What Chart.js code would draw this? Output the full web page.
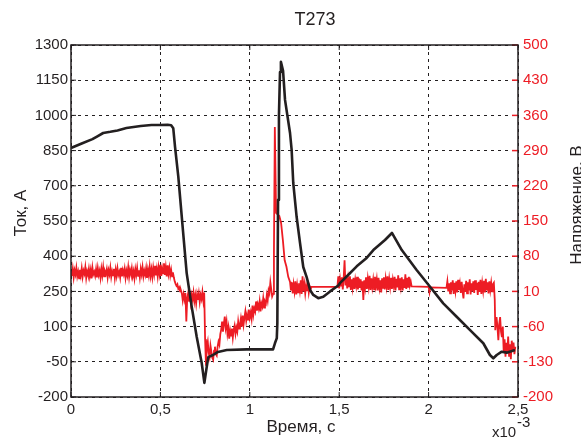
<!DOCTYPE html>
<html>
<head>
<meta charset="utf-8">
<script src="https://cdn.jsdelivr.net/npm/chart.js@4"></script>
<style>
  body { margin: 0; background: #fff; }
  canvas { display: block; }
</style>
</head>
<body>
<canvas id="chart" width="581" height="438"></canvas>
<script>
// ===== DATA =====
// time in ms (axis shows x10^-3 s)
const currentTime = [0, 0.06, 0.12, 0.15, 0.18, 0.22, 0.26, 0.31, 0.36, 0.39,
  0.45, 0.5, 0.54, 0.56, 0.572, 0.582, 0.6, 0.625, 0.647, 0.675,
  0.703, 0.731, 0.746, 0.759, 0.768, 0.794, 0.822, 0.871, 0.983, 1.13,
  1.141, 1.151, 1.154, 1.158, 1.163, 1.169, 1.174, 1.186, 1.197, 1.225,
  1.234, 1.243, 1.262, 1.281, 1.299, 1.318, 1.337, 1.355, 1.383, 1.411,
  1.449, 1.495, 1.504, 1.55, 1.598, 1.65, 1.691, 1.756, 1.795, 1.85,
  1.933, 2.008, 2.082, 2.157, 2.232, 2.306, 2.343, 2.362, 2.381, 2.409,
  2.437, 2.483];
const current = [861, 880, 899, 912, 925, 930, 936, 946, 952, 955,
  959, 959, 960, 958, 945, 865, 740, 520, 328, 185,
  57, -55, -140, -72, -30, -21, -8, 0, 3, 3,
  30, 51, 115, 640, 1000, 1185, 1228, 1190, 1066, 925,
  853, 712, 567, 456, 354, 311, 256, 235, 221, 227,
  250, 275, 285, 320, 357, 390, 426, 469, 499, 426,
  341, 270, 199, 142, 85, 29, -21, -35, -21, -7,
  -11, 0];

// [time ms, voltage V]
const voltage = [
  [0,50],[0.005,41],[0.01,55],[0.015,38],[0.02,52],[0.025,44],[0.03,57],[0.035,40],[0.04,49],[0.045,36],
  [0.05,53],[0.055,42],[0.06,56],[0.065,39],[0.07,51],[0.075,45],[0.08,58],[0.085,37],[0.09,50],[0.095,43],
  [0.1,55],[0.105,40],[0.11,52],[0.115,36],[0.12,57],[0.125,44],[0.13,49],[0.135,41],[0.14,54],[0.145,38],
  [0.15,56],[0.155,43],[0.16,51],[0.165,37],[0.17,55],[0.175,42],[0.18,58],[0.185,40],[0.19,50],[0.195,45],
  [0.2,54],[0.205,38],[0.21,52],[0.215,44],[0.22,57],[0.225,39],[0.23,50],[0.235,42],[0.24,55],[0.245,37],
  [0.25,53],[0.255,41],[0.26,56],[0.265,43],[0.27,49],[0.275,38],[0.28,57],[0.285,40],[0.29,52],[0.295,44],
  [0.3,55],[0.305,37],[0.31,51],[0.315,42],[0.32,58],[0.325,39],[0.33,53],[0.335,45],[0.34,56],[0.345,40],
  [0.35,50],[0.355,36],[0.36,54],[0.365,43],[0.37,57],[0.375,41],[0.38,52],[0.385,38],[0.39,55],[0.395,44],
  [0.4,58],[0.405,40],[0.41,51],[0.415,43],[0.42,56],[0.425,37],[0.43,53],[0.435,42],[0.44,59],[0.445,41],
  [0.45,54],[0.455,39],[0.46,57],[0.465,44],[0.47,61],[0.475,42],[0.48,55],[0.485,40],[0.49,58],[0.495,45],
  [0.5,63],[0.505,41],[0.51,56],[0.515,46],[0.52,66],[0.525,43],[0.53,58],[0.535,40],[0.54,62],[0.545,45],
  [0.55,57],[0.555,42],[0.56,53],[0.565,40],[0.57,48],
  [0.575,38],[0.58,30],[0.585,25],[0.59,21],[0.595,24],[0.6,15],[0.605,18],[0.61,10],[0.615,12],
  [0.62,6],[0.625,-8],[0.63,4],[0.635,-6],[0.64,7],[0.645,-50],[0.65,-4],[0.655,6],[0.66,-9],[0.665,5],
  [0.67,-12],[0.675,3],[0.68,-6],[0.685,8],[0.69,-10],[0.695,2],[0.7,-14],[0.705,4],[0.71,-7],[0.715,6],
  [0.72,-11],[0.725,3],[0.73,-5],[0.735,9],[0.74,-8],[0.745,8],
  [0.75,-85],[0.755,-138],[0.76,-100],[0.765,-90],[0.77,-112],[0.775,-120],[0.78,-98],[0.785,-110],
  [0.79,-122],[0.795,-126],[0.8,-108],[0.805,-100],[0.81,-115],[0.815,-118],[0.82,-100],[0.825,-90],
  [0.83,-96],[0.835,-75],[0.84,-66],[0.845,-50],[0.85,-70],[0.855,-55],[0.86,-40],[0.865,-62],
  [0.87,-50],[0.875,-74],[0.88,-62],[0.885,-84],[0.89,-68],[0.895,-78],[0.9,-64],[0.905,-82],
  [0.91,-66],[0.915,-58],[0.92,-74],[0.925,-62],[0.93,-70],[0.935,-50],[0.94,-64],[0.945,-56],
  [0.95,-44],[0.955,-60],[0.96,-38],[0.965,-56],[0.97,-42],[0.975,-30],[0.98,-48],[0.985,-36],
  [0.99,-46],[0.995,-26],[1.0,-42],[1.005,-32],[1.01,-44],[1.015,-18],[1.02,-36],[1.025,-24],
  [1.03,-30],[1.035,-10],[1.04,-28],[1.045,-16],[1.05,-24],[1.055,-10],[1.06,-30],[1.065,-14],
  [1.07,-20],[1.075,-4],[1.08,-22],[1.085,-10],[1.09,-14],[1.095,2],[1.1,-8],[1.105,12],
  [1.11,6],[1.115,28],[1.12,14],[1.125,0],[1.13,5],
  [1.135,86],[1.14,337],[1.147,166],[1.165,160],[1.175,146],[1.185,112],[1.195,72],[1.205,59],
  [1.215,39],[1.225,29],
  [1.23,12],[1.235,28],[1.24,6],[1.245,24],[1.25,10],[1.255,30],[1.26,4],[1.265,22],[1.27,8],[1.275,26],
  [1.28,12],[1.285,32],[1.29,5],[1.295,40],[1.3,10],[1.305,24],[1.31,6],[1.315,22],[1.32,12],[1.325,28],
  [1.33,8],[1.335,20],[1.34,14],[1.345,19],
  [1.49,19],
  [1.495,40],[1.5,16],[1.505,34],[1.51,20],[1.515,38],[1.52,14],[1.525,36],[1.53,72],[1.535,22],[1.54,38],
  [1.545,16],[1.55,35],[1.555,20],[1.56,40],[1.565,13],[1.57,34],[1.575,18],[1.58,37],[1.585,15],[1.59,33],
  [1.595,21],[1.6,39],[1.605,14],[1.61,36],[1.615,17],[1.62,34],[1.625,12],[1.63,30],[1.635,-7],[1.64,32],
  [1.645,18],[1.65,38],[1.655,15],[1.66,35],[1.665,20],[1.67,41],[1.675,13],[1.68,36],[1.685,19],[1.69,33],
  [1.695,14],[1.7,39],[1.705,21],[1.71,34],[1.715,12],[1.72,37],[1.725,18],[1.73,32],[1.735,8],[1.74,36],
  [1.745,17],[1.75,38],[1.755,14],[1.76,35],[1.765,20],[1.77,40],[1.775,13],[1.78,34],[1.785,19],[1.79,37],
  [1.795,15],[1.8,33],[1.805,21],[1.81,39],[1.815,12],[1.82,35],[1.825,18],[1.83,42],[1.835,14],[1.84,36],
  [1.845,20],[1.85,38],[1.855,12],[1.86,34],[1.865,17],[1.87,44],[1.875,15],[1.88,37],[1.885,19],[1.89,39],
  [1.895,22],[1.9,30],[1.905,20],
  [2.0,19],[2.005,8],[2.01,18],[2.1,17],
  [2.105,30],[2.11,10],[2.115,26],[2.12,6],[2.125,28],[2.13,12],[2.135,32],[2.14,5],[2.145,27],[2.15,11],
  [2.155,30],[2.16,8],[2.165,33],[2.17,13],[2.175,25],[2.18,7],[2.185,29],[2.19,10],[2.195,-4],[2.2,24],
  [2.205,9],[2.21,31],[2.215,6],[2.22,28],[2.225,12],[2.23,34],[2.235,4],[2.24,26],[2.245,10],[2.25,30],
  [2.255,7],[2.26,32],[2.265,13],[2.27,27],[2.275,3],[2.28,29],[2.285,9],[2.29,33],[2.295,5],[2.3,26],
  [2.305,11],[2.31,31],[2.315,8],[2.32,35],[2.325,12],[2.33,28],[2.335,6],[2.34,30],[2.345,13],[2.35,27],
  [2.355,10],[2.36,24],
  [2.365,27],[2.37,-7],[2.373,-67],[2.38,-41],[2.385,-60],[2.39,-87],[2.395,-55],[2.4,-41],[2.405,-70],
  [2.41,-81],[2.415,-60],[2.42,-110],[2.425,-85],[2.43,-120],[2.435,-92],[2.44,-112],[2.445,-80],
  [2.45,-118],[2.455,-95],[2.46,-125],[2.465,-88],[2.47,-108],[2.475,-92],[2.48,-115],[2.485,-100]
];

const BLACK = "#231f20";
const RED = "#ed1c24";
const FONT = "'Liberation Sans', Arial, sans-serif";

// ===== FRAME, TICKS AND LABELS =====
const decor = {
  id: "decor",
  afterDraw(chart) {
    const { ctx, chartArea: a, scales } = chart;
    ctx.save();
    ctx.setLineDash([]);

    const seg = (x1, y1, x2, y2) => {
      ctx.beginPath();
      ctx.moveTo(x1, y1);
      ctx.lineTo(x2, y2);
      ctx.stroke();
    };

    // inner ticks
    ctx.lineWidth = 1;
    ctx.strokeStyle = BLACK;
    scales.y.ticks.forEach(t => {
      const py = scales.y.getPixelForValue(t.value);
      seg(a.left, py, a.left + 5, py);
    });
    scales.x.ticks.forEach(t => {
      const px = scales.x.getPixelForValue(t.value);
      seg(px, a.bottom, px, a.bottom - 5);
      seg(px, a.top, px, a.top + 5);
    });
    ctx.strokeStyle = RED;
    ctx.lineWidth = 1.5;
    scales.y2.ticks.forEach(t => {
      const py = scales.y2.getPixelForValue(t.value);
      seg(a.right - 6, py, a.right, py);
    });

    // box
    ctx.strokeStyle = BLACK;
    ctx.lineWidth = 1.5;
    ctx.strokeRect(a.left, a.top, a.right - a.left, a.bottom - a.top);

    // texts
    ctx.fillStyle = BLACK;
    ctx.textAlign = "center";
    ctx.textBaseline = "middle";
    ctx.font = "18px " + FONT;
    ctx.fillText("T273", 315, 20);

    ctx.font = "17px " + FONT;
    ctx.fillText("Время, с", 301, 427);

    ctx.save();
    ctx.translate(21, 213);
    ctx.rotate(-Math.PI / 2);
    ctx.fillText("Ток, А", 0, 0);
    ctx.restore();

    ctx.save();
    ctx.translate(577, 205);
    ctx.rotate(-Math.PI / 2);
    ctx.fillText("Напряжение, В", 0, 0);
    ctx.restore();

    ctx.textAlign = "left";
    ctx.textBaseline = "alphabetic";
    ctx.font = "15px " + FONT;
    ctx.fillText("x10", 492, 437);
    ctx.fillText("-3", 517, 427);

    ctx.restore();
  }
};

new Chart(document.getElementById("chart"), {
  type: "line",
  data: {
    datasets: [
      {
        label: "Ток",
        data: currentTime.map((t, i) => ({ x: t, y: current[i] })),
        yAxisID: "y",
        borderColor: BLACK,
        borderWidth: 2.6,
        borderJoinStyle: "round",
        pointRadius: 0,
        tension: 0
      },
      {
        label: "Напряжение",
        data: voltage.map(p => ({ x: p[0], y: p[1] })),
        yAxisID: "y2",
        borderColor: RED,
        borderWidth: 1.8,
        pointRadius: 0,
        tension: 0
      }
    ]
  },
  options: {
    responsive: false,
    animation: false,
    devicePixelRatio: 1,
    layout: { padding: { top: 45, left: 0, right: 0, bottom: 0 } },
    plugins: {
      legend: { display: false },
      tooltip: { enabled: false }
    },
    scales: {
      x: {
        type: "linear",
        min: 0,
        max: 2.5,
        afterFit: s => { s.height = 41; },
        ticks: {
          stepSize: 0.5,
          padding: 4,
          color: BLACK,
          font: { family: FONT, size: 15 },
          maxRotation: 0,
          callback: v => String(v).replace(".", ",")
        },
        grid: { color: BLACK, lineWidth: 1, drawTicks: false },
        border: { display: false, dash: [3, 4] }
      },
      y: {
        position: "left",
        min: -200,
        max: 1300,
        afterFit: s => { s.width = 71; },
        ticks: {
          stepSize: 150,
          padding: 3,
          color: BLACK,
          font: { family: FONT, size: 15 },
          callback: v => String(v)
        },
        grid: { color: BLACK, lineWidth: 1, drawTicks: false },
        border: { display: false, dash: [3, 4] }
      },
      y2: {
        position: "right",
        min: -200,
        max: 500,
        afterFit: s => { s.width = 63; },
        ticks: {
          stepSize: 70,
          padding: 5,
          color: RED,
          font: { family: FONT, size: 15 },
          callback: v => String(v)
        },
        grid: { display: false, drawTicks: false },
        border: { display: false }
      }
    }
  },
  plugins: [decor]
});
</script>
</body>
</html>
